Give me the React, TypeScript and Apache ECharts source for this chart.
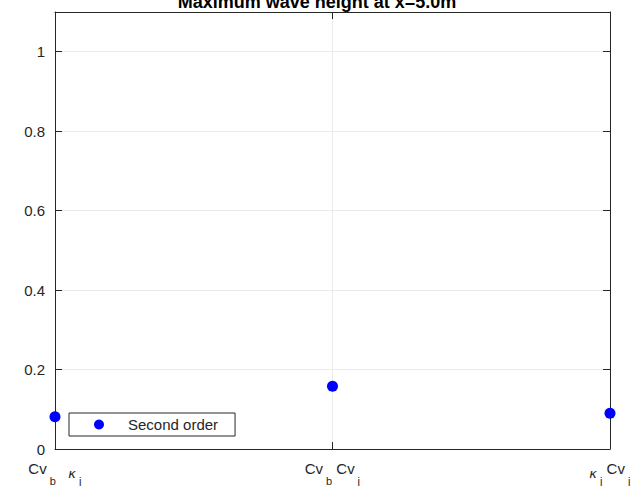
import React, { useEffect, useRef } from "react";
import * as echarts from "echarts";

const categoryLabels = [
  "{n|Cv}{s|b}{n|   }{k|κ}{s|j}{f| }",
  "{n|Cv}{s|b}{n| Cv}{s|j}{f| }",
  "{k|κ}{s|j}{n| Cv}{s|j}{f| }",
];
const xPositions = [0, 1, 2];
const secondOrder = [0.081, 0.158, 0.09];
const titleText = "Maximum wave height at x=5.0m";
const seriesName = "Second order";

const AX = "#262626";
const FONT = "'Liberation Sans', Arial, Helvetica, sans-serif";

export default function App() {
  const ref = useRef<HTMLDivElement>(null);
  useEffect(() => {
    if (!ref.current) return;
    const chart = echarts.init(ref.current, undefined, { renderer: "svg" });
    const rich = {
      n: { fontSize: 15, color: AX, fontFamily: FONT, lineHeight: 16, verticalAlign: "top" as const },
      s: { fontSize: 11, color: AX, fontFamily: FONT, lineHeight: 12, verticalAlign: "bottom" as const, padding: [0, 0, 0, 3] },
      k: { fontSize: 13, color: AX, fontFamily: "'DejaVu Sans', sans-serif", fontStyle: "italic" as const, lineHeight: 14, verticalAlign: "middle" as const },
      f: { fontSize: 1, lineHeight: 25, verticalAlign: "middle" as const },
    };
    const axisLine = { show: true, onZero: false, lineStyle: { color: AX, width: 1 } };
    const axisTick = { show: true, inside: true, length: 7, lineStyle: { color: AX } };
    chart.setOption({
      animation: false,
      backgroundColor: "#ffffff",
      title: {
        text: titleText,
        left: "center",
        top: -12,
        textStyle: { fontSize: 18, fontWeight: "bold", color: "#000", fontFamily: FONT },
      },
      grid: { left: 55, right: 24, top: 12, bottom: 36, containLabel: false },
      legend: {
        left: 69,
        top: 413,
        orient: "vertical",
        data: [seriesName],
        backgroundColor: "#fff",
        borderColor: AX,
        borderWidth: 1,
        borderRadius: 0,
        padding: [4, 17, 4, 25],
        itemWidth: 10,
        itemHeight: 10,
        textStyle: { fontSize: 15, color: AX, fontFamily: FONT, lineHeight: 15, padding: [0, 0, 0, 19] },
      },
      xAxis: [
        {
          type: "value",
          min: 0,
          max: 2,
          interval: 1,
          axisLine,
          axisTick,
          axisLabel: {
            margin: 12,
            formatter: (v: number) => categoryLabels[xPositions.indexOf(Math.round(v))] ?? "",
            rich,
          },
          splitLine: { show: true, lineStyle: { color: "#ebebeb", width: 1 } },
        },
        {
          type: "value",
          position: "top",
          min: 0,
          max: 2,
          interval: 1,
          axisLine,
          axisTick,
          axisLabel: { show: false },
          splitLine: { show: false },
        },
      ],
      yAxis: [
        {
          type: "value",
          min: 0,
          max: 1.1,
          interval: 0.2,
          axisLine,
          axisTick,
          axisLabel: { margin: 10, fontSize: 15, color: AX, fontFamily: FONT, showMaxLabel: false },
          splitLine: { show: true, lineStyle: { color: "#ebebeb", width: 1 } },
        },
        {
          type: "value",
          position: "right",
          min: 0,
          max: 1.1,
          interval: 0.2,
          axisLine,
          axisTick,
          axisLabel: { show: false },
          splitLine: { show: false },
        },
      ],
      series: [
        {
          name: seriesName,
          type: "scatter",
          symbol: "circle",
          symbolSize: 11,
          itemStyle: { color: "#0000ff", opacity: 1 },
          data: xPositions.map((x, i) => [x, secondOrder[i]]),
          clip: false,
          z: 5,
        },
      ],
    });
    return () => chart.dispose();
  }, []);
  return <div ref={ref} style={{ width: 634, height: 486, position: "absolute", left: 0, top: 0 }} />;
}
